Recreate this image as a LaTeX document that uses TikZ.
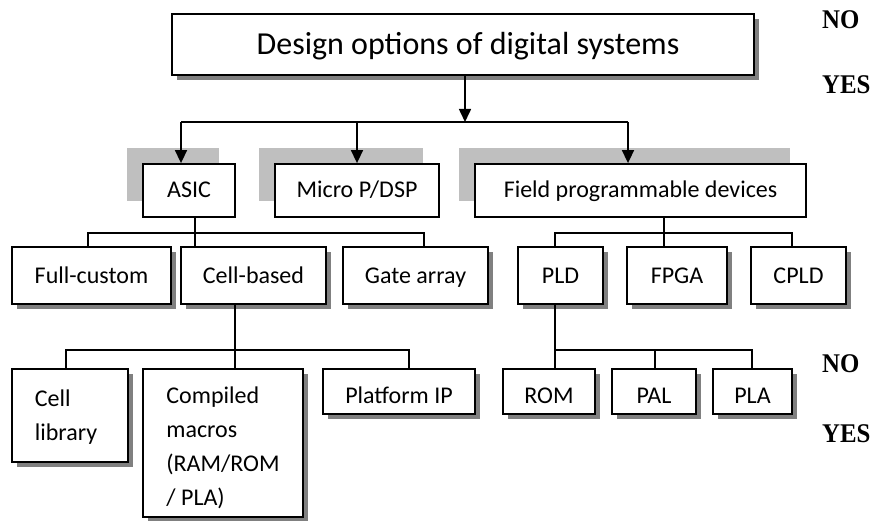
\documentclass[tikz,border=0pt]{standalone}
\usepackage{fontspec}
\setmainfont{Carlito}
\newfontfamily\answerfont{Liberation Serif}
\usetikzlibrary{arrows.meta,shadows}

\tikzset{
  box/.style={draw=black, line width=1.8pt, fill=white, rectangle, inner sep=0pt,
    font=\fontsize{24}{34}\selectfont},
  mid/.style={text height=17pt, text depth=2pt},
  low/.style={text height=25pt, text depth=2pt},
  dshadow/.style={drop shadow={shadow xshift=5pt, shadow yshift=-5pt, opacity=1, fill=black!50, draw=none}},
  lshadow/.style={drop shadow={shadow xshift=-16pt, shadow yshift=16pt, opacity=1, fill=black!25, draw=none}},
  conn/.style={draw=black, line width=1.6pt},
  branch/.style={draw=black, line width=1.3pt},
  arr/.style={conn, -{Triangle[length=13pt,width=12pt]}},
  answer/.style={anchor=base west, inner sep=0pt, font=\answerfont\bfseries\fontsize{27}{30}\selectfont},
}
\newcommand{\narrow}[1]{\scalebox{0.92}[1]{#1}}

\begin{document}
\begin{tikzpicture}[x=1pt, y=-1pt]
\useasboundingbox (0,0) rectangle (872,521);

% root
\node[box, dshadow, minimum width=582pt, minimum height=61pt, text height=22pt, text depth=2pt,
      font=\fontsize{32}{38}\selectfont] (top) at (463,44.5) {\hspace*{10pt}Design options of digital systems};

% second level
\node[box, mid, lshadow, minimum width=92pt, minimum height=53pt] (asic) at (189,190.5) {ASIC};
\node[box, mid, lshadow, minimum width=164pt, minimum height=53pt] (micro) at (357,190.5) {Micro P/DSP};
\node[box, mid, lshadow, minimum width=331pt, minimum height=53pt] (field) at (640.5,190.5) {Field programmable devices};

% third level
\node[box, mid, dshadow, minimum width=159pt, minimum height=57pt] (fullc) at (91.5,275.5) {Full-custom};
\node[box, mid, dshadow, minimum width=145pt, minimum height=57pt] (cellb) at (253.5,275.5) {Cell-based};
\node[box, mid, dshadow, minimum width=145pt, minimum height=57pt] (gate) at (415.5,275.5) {Gate array};
\node[box, mid, dshadow, minimum width=85pt, minimum height=57pt] (pld) at (560.5,275.5) {PLD};
\node[box, mid, dshadow, minimum width=100pt, minimum height=57pt] (fpga) at (677,275.5) {FPGA};
\node[box, mid, dshadow, minimum width=95pt, minimum height=57pt] (cpld) at (798.5,275.5) {CPLD};

% fourth level
\node[box, dshadow, minimum width=116pt, minimum height=93pt, align=left] (celllib) at (70,415.5) {\rule{0pt}{20pt}Cell\\library\hspace*{8pt}};
\node[box, dshadow, minimum width=160pt, minimum height=148pt, align=left] (macros) at (223,443) {\rule{0pt}{27pt}Compiled\\macros\\(RAM/ROM\hspace*{10pt}\\/ PLA)};
\node[box, low, dshadow, minimum width=152pt, minimum height=45pt] (platip) at (399,391.5) {Platform IP};
\node[box, low, dshadow, minimum width=92pt, minimum height=45pt] (rom) at (549,391.5) {ROM};
\node[box, low, dshadow, minimum width=84pt, minimum height=45pt] (pal) at (654,391.5) {PAL};
\node[box, low, dshadow, minimum width=79pt, minimum height=45pt] (pla) at (752.5,391.5) {PLA};

% root to second level
\coordinate (rj) at (465,122);
\coordinate (rl) at (181,122);
\coordinate (rr) at (628,122);
\draw[arr] (rj |- top.south) -- (rj);
\draw[conn] (rl) -- (rr);
\draw[arr] (rl) -- (rl |- asic.north);
\draw[arr] (rl -| micro.north) -- (micro.north);
\draw[arr] (rr) -- (rr |- field.north);

% ASIC branch
\coordinate (a1) at (88,233);
\coordinate (aj) at (195,233);
\coordinate (a2) at (424,233);
\draw[branch] (a1 |- fullc.north) -- (a1) -- (a2) -- (a2 |- gate.north);
\draw[branch] (aj |- asic.south) -- (aj |- cellb.north);

% field programmable branch
\coordinate (f1) at (555,233);
\coordinate (fj) at (664,233);
\coordinate (f2) at (792,233);
\draw[branch] (f1 |- pld.north) -- (f1) -- (f2) -- (f2 |- cpld.north);
\draw[branch] (fj |- field.south) -- (fj |- fpga.north);

% cell-based branch
\coordinate (c1) at (66,350);
\coordinate (cj) at (235,350);
\coordinate (c2) at (409,350);
\draw[branch] (c1 |- celllib.north) -- (c1) -- (c2) -- (c2 |- platip.north);
\draw[branch] (cj |- cellb.south) -- (cj |- macros.north);

% PLD branch
\coordinate (p1) at (555,350);
\coordinate (pj) at (655,350);
\coordinate (p2) at (752,350);
\draw[branch] (p1 |- pld.south) -- (p1 |- rom.north);
\draw[branch] (p1) -- (p2) -- (p2 |- pla.north);
\draw[branch] (pj) -- (pj |- pal.north);

% answers
\node[answer] (no1) at (822,29) {\narrow{NO}};
\node[answer] (yes1) at (822,94) {\narrow{YES}};
\node[answer] (no2) at (822,372) {\narrow{NO}};
\node[answer] (yes2) at (822,442) {\narrow{YES}};
\end{tikzpicture}
\end{document}
